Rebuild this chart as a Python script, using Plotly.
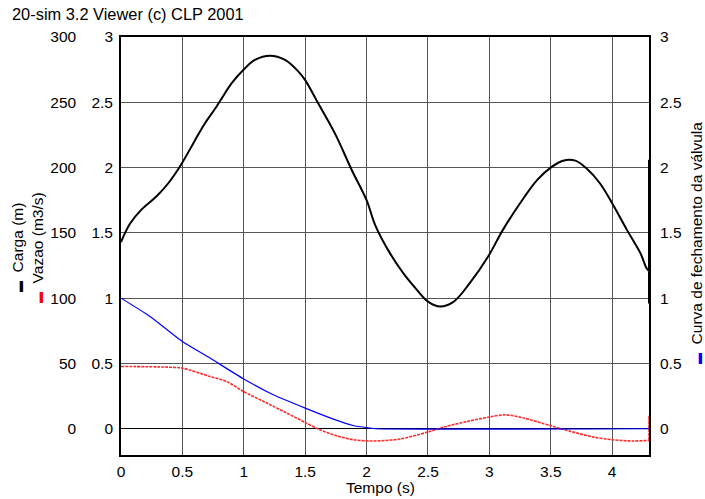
import plotly.graph_objects as go

# --- data ---
t_carga = [0, 0.073, 0.168, 0.29, 0.385, 0.494, 0.603, 0.684, 0.766, 0.82, 0.90, 0.996, 1.09, 1.214,
           1.336, 1.445, 1.5, 1.607, 1.743, 1.88, 2.0, 2.07, 2.19, 2.30, 2.41, 2.50, 2.60, 2.71, 2.84,
           2.99, 3.11, 3.25, 3.39, 3.51, 3.60, 3.70, 3.79, 3.90, 4.0, 4.12, 4.23, 4.28, 4.30, 4.30, 4.30]
carga = [143, 157, 168, 178, 188, 203, 221, 234, 245, 253, 264.5, 274.7, 282.4, 285.7,
         282.4, 273.5, 267, 249, 226, 198, 175, 156, 134.5, 119, 106.4, 97.4, 93.6, 97.4, 111.5,
         131.9, 152.3, 172.7, 190.6, 200.7, 205.3, 205.3, 199.5, 188, 172.7, 152.3, 134.5, 123, 121, 206, 96]

t_vazao = [0, 0.37, 0.5, 0.725, 0.86, 0.996, 1.187, 1.35, 1.5, 1.62, 1.757, 1.89, 2.03, 2.11, 2.27,
           2.50, 2.65, 2.82, 3.0, 3.13, 3.28, 3.50, 3.66, 3.85, 4.0, 4.17, 4.28, 4.30, 4.30, 4.30]
vazao = [0.477, 0.472, 0.464, 0.40, 0.362, 0.286, 0.197, 0.12, 0.048, -0.008, -0.054, -0.084, -0.094,
         -0.092, -0.079, -0.025, 0.018, 0.056, 0.09, 0.107, 0.082, 0.023, -0.02, -0.064, -0.084, -0.094,
         -0.09, -0.09, 0.10, -0.097]

t_curva = [0, 0.236, 0.5, 0.725, 0.996, 1.24, 1.5, 1.73, 1.89, 2.03, 2.07, 4.30]
curva = [1.0, 0.86, 0.668, 0.541, 0.383, 0.26, 0.158, 0.074, 0.025, 0.005, 0.0, 0.0]

x_ticks = [0, 0.5, 1, 1.5, 2, 2.5, 3, 3.5, 4]
x_labels = ["0", "0.5", "1", "1.5", "2", "2.5", "3", "3.5", "4"]
carga_ticks = [0, 50, 100, 150, 200, 250, 300]
carga_labels = ["0", "50", "100", "150", "200", "250", "300"]
unit_ticks = [0, 0.5, 1, 1.5, 2, 2.5, 3]
unit_labels = ["0", "0.5", "1", "1.5", "2", "2.5", "3"]

FONT = "Liberation Sans, Arial, sans-serif"
FS = 15.5

fig = go.Figure()
fig.add_trace(go.Scatter(x=t_carga, y=carga, mode="lines", line=dict(color="black", width=2),
                         yaxis="y", showlegend=False, line_shape="spline",
                         line_smoothing=1.0))
fig.add_trace(go.Scatter(x=t_vazao, y=vazao, mode="lines",
                         line=dict(color="#ff2a2a", width=1.6, dash="3px,1px"),
                         yaxis="y2", showlegend=False, line_shape="spline", line_smoothing=0.8))
fig.add_trace(go.Scatter(x=t_curva, y=curva, mode="lines", line=dict(color="#0000ff", width=1.2),
                         yaxis="y3", showlegend=False, line_shape="spline", line_smoothing=0.6))

# pixel geometry of the plotting area
W0, W1, H0, H1 = 121, 649, 37, 455
W, H = W1 - W0, H1 - H0
FIG_W, FIG_H = 705, 499


def px(x):
    return (x - W0) / W


def py(y):
    return (H1 - y) / H


fig.update_layout(
    width=FIG_W, height=FIG_H,
    margin=dict(l=W0, r=FIG_W - W1, t=H0, b=FIG_H - H1, autoexpand=False),
    paper_bgcolor="white", plot_bgcolor="white",
    font=dict(family=FONT, size=FS, color="black"),
    xaxis=dict(range=[0, 4.30], tickvals=x_ticks, ticktext=x_labels, showgrid=True,
               gridcolor="#555555", gridwidth=1, showline=True, linecolor="black", linewidth=1.5,
               mirror=True, zeroline=False, ticks="", ticklabelstandoff=2, tickfont=dict(size=FS)),
    yaxis=dict(range=[-20.1, 300], tickvals=carga_ticks, ticktext=carga_labels, showgrid=True,
               gridcolor="#555555", gridwidth=1, showline=True, linecolor="black", linewidth=1.5,
               mirror=True, zeroline=True, zerolinecolor="black", zerolinewidth=1,
               ticks="", ticklabelstandoff=40, tickfont=dict(size=FS)),
    yaxis2=dict(range=[-0.201, 3.0], overlaying="y", side="left", anchor="x",
                tickvals=unit_ticks, ticktext=unit_labels, showgrid=False, zeroline=False,
                showline=False, ticks="", ticklabelstandoff=7, tickfont=dict(size=FS)),
    yaxis3=dict(range=[-0.201, 3.0], overlaying="y", side="right", anchor="x",
                tickvals=unit_ticks, ticktext=unit_labels, showgrid=False, zeroline=False,
                showline=False, ticks="", ticklabelstandoff=10, tickfont=dict(size=FS)),
)

MK = "<span style='color:{c};font-size:11px'>▬</span>  "
ann = [
    dict(text="20-sim 3.2 Viewer (c) CLP 2001", x=px(10), y=py(14), xanchor="left", yanchor="middle",
         size=16.4),
    dict(text="Tempo (s)", x=px(380), y=py(487), xanchor="center", yanchor="middle", size=FS),
    dict(text=MK.format(c="black") + "Carga (m)", x=px(17), y=py(248), textangle=-90,
         xanchor="center", yanchor="middle", size=FS),
    dict(text=MK.format(c="red") + "Vazao (m3/s)", x=px(37), y=py(248), textangle=-90,
         xanchor="center", yanchor="middle", size=FS),
    dict(text=MK.format(c="blue") + "Curva de fechamento da válvula", x=px(696), y=py(243),
         textangle=-90, xanchor="center", yanchor="middle", size=FS),
]
for a in ann:
    size = a.pop("size")
    fig.add_annotation(xref="paper", yref="paper", showarrow=False,
                       font=dict(family=FONT, size=size, color="black"), **a)

# remove the default 8px page margin so figure pixels equal window pixels
fig.write_html("out.html", config={"displayModeBar": False},
               post_script="document.body.style.margin='0';document.body.style.overflow='hidden';")
